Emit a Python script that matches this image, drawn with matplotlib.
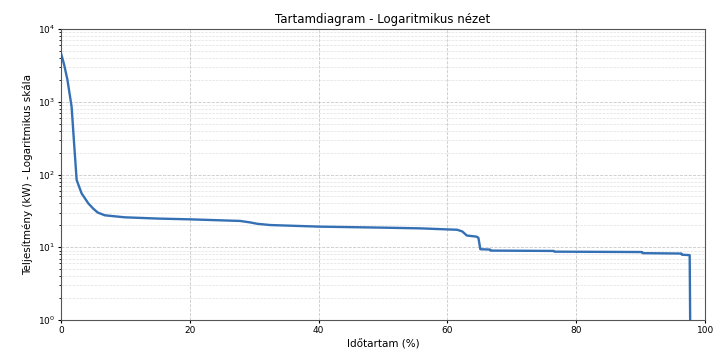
import matplotlib
matplotlib.use("Agg")
import matplotlib.pyplot as plt

duration_pct = [0.0, 0.5, 1.0, 1.65, 2.07, 2.43, 3.2, 4.25, 5.0, 5.7, 6.8, 9.9, 15.0, 20.0,
                27.8, 29.3, 30.5, 32.5, 40.2, 50.0, 55.7, 60.0, 61.5, 62.3, 63.0,
                64.5, 64.8, 65.1, 66.6, 66.7, 76.5, 76.6, 90.2, 90.3, 96.3, 96.4,
                97.6, 97.7]
power_kw = [4640, 3200, 2000, 850, 240, 84, 55, 40, 34, 30, 27.5, 25.8, 24.8, 24.2,
            23.0, 22.0, 21.0, 20.2, 19.2, 18.6, 18.2, 17.6, 17.4, 16.5, 14.5,
            14.0, 13.5, 9.4, 9.3, 9.0, 8.9, 8.7, 8.6, 8.3, 8.2, 7.9,
            7.8, 0.5]

title = "Tartamdiagram - Logaritmikus nézet"
xlabel = "Időtartam (%)"
ylabel = "Teljesítmény (kW) - Logaritmikus skála"

fig = plt.figure(figsize=(7.21, 3.49), dpi=100)
ax = fig.add_axes([0.0846, 0.083, 0.8934, 0.834])
ax.plot(duration_pct, power_kw, color="#3570b5", linewidth=1.7)
ax.set_yscale("log")
ax.set_ylim(1, 1e4)
ax.set_xlim(0, 100)
ax.set_title(title, fontsize=8.5, pad=4)
ax.set_xlabel(xlabel, fontsize=7.5, labelpad=3)
ax.set_ylabel(ylabel, fontsize=7.5, labelpad=3)
ax.tick_params(labelsize=6.5, length=2.5, pad=2)
ax.tick_params(which="minor", length=1.5)
ax.grid(True, which="major", linestyle="--", color="#bbbbbb", linewidth=0.6, alpha=0.8)
ax.grid(True, which="minor", linestyle="--", color="#cccccc", linewidth=0.5, alpha=0.6)
for s in ax.spines.values():
    s.set_color("#555555")
    s.set_linewidth(0.8)
fig.savefig("out.png", dpi=100)
